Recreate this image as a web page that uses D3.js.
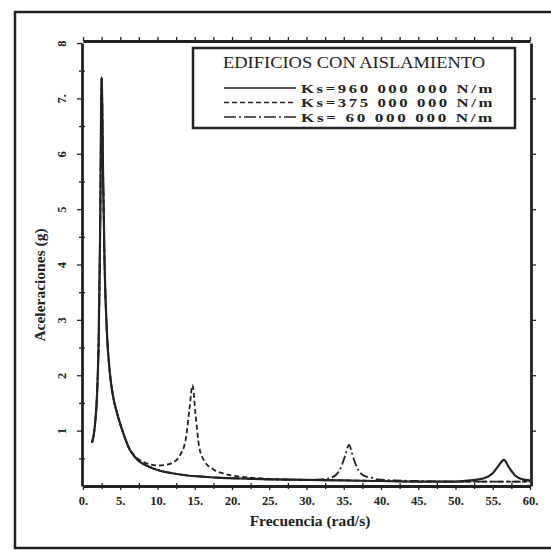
<!DOCTYPE html>
<html><head><meta charset="utf-8">
<script src="https://cdn.jsdelivr.net/npm/d3@7"></script>
<style>body{margin:0;background:#fff}svg{display:block}</style>
</head><body>
<script>
// Data
const seriesNames = ["Ks=960 000 000 N/m", "Ks=375 000 000 N/m", "Ks= 60 000 000 N/m"];
const solidX = [1.2,1.6,1.9,2.1,2.3,2.5,2.7,2.9,3.2,3.6,4.0,4.6,5.0,5.6,6.3,7.0,7.6,8.5,10,12,14,16,18,20,25,30,35,40,45,50,52,54,55,55.8,56.5,57.2,58,59,60];
const solidY = [0.78,1.1,1.7,2.6,4.6,7.38,5.6,4.0,2.8,2.05,1.65,1.3,1.12,0.88,0.65,0.52,0.44,0.37,0.29,0.23,0.19,0.17,0.15,0.14,0.12,0.11,0.10,0.09,0.08,0.08,0.10,0.15,0.23,0.37,0.47,0.33,0.19,0.12,0.10];
const dashX = [1.2,1.6,1.9,2.1,2.3,2.5,2.7,2.9,3.2,3.6,4.0,4.6,5.0,5.6,6.3,7.0,8,9,10,11,12,13,13.8,14.3,14.7,15.1,15.6,16.3,17.5,19,21,25,30,35,40,45,50,55,60];
const dashY = [0.78,1.1,1.7,2.6,4.6,7.38,5.6,4.0,2.8,2.05,1.65,1.3,1.12,0.88,0.66,0.54,0.44,0.39,0.37,0.38,0.42,0.55,0.85,1.4,1.82,1.3,0.7,0.45,0.3,0.22,0.17,0.13,0.11,0.10,0.09,0.08,0.08,0.08,0.08];
const dotX = [1.2,1.6,1.9,2.1,2.3,2.5,2.7,2.9,3.2,3.6,4.0,4.6,5.0,5.6,6.3,7.0,7.6,8.5,10,12,14,16,18,20,25,30,32,33.5,34.5,35.2,35.7,36.3,37,38,38.5,39.5,42,45,50,55,60];
const dotY = [0.78,1.1,1.7,2.6,4.6,7.38,5.6,4.0,2.8,2.05,1.65,1.3,1.12,0.88,0.65,0.52,0.44,0.37,0.29,0.23,0.19,0.17,0.15,0.14,0.12,0.11,0.12,0.16,0.3,0.55,0.74,0.5,0.28,0.17,0.16,0.12,0.1,0.09,0.08,0.08,0.08];
const xTicks = [0,5,10,15,20,25,30,35,40,45,50,55,60];
const xTickLabels = ["0.","5.","10.","15.","20.","25.","30.","35.","40.","45.","50.","55.","60."];
const yTicks = [1,2,3,4,5,6,7,8];
const yTickLabels = ["1","2","3","4","5","6","7.","8"];
const legendTitle = "EDIFICIOS CON AISLAMIENTO";
const xTitle = "Frecuencia (rad/s)";
const yTitle = "Aceleraciones (g)";

const FONT = "'Liberation Serif', 'DejaVu Serif', serif";
const W = 551, H = 551;
const L = 82, R = 531, T = 41, B = 486;
const svg = d3.select("body").append("svg").attr("width", W).attr("height", H)
  .attr("font-family", FONT);
const ink = "#222";

// outer frame
svg.append("rect").attr("x",15).attr("y",12).attr("width",560).attr("height",536)
  .attr("fill","none").attr("stroke",ink).attr("stroke-width",2.5);

const x = d3.scaleLinear().domain([0,60]).range([L+1,R-1]);
const y = d3.scaleLinear().domain([0,8]).range([B,T+2]);

// axes
const gB = svg.append("g").attr("transform",`translate(0,${B})`)
  .call(d3.axisBottom(x).tickValues(xTicks).tickFormat((d,i)=>xTickLabels[i]).tickSizeInner(4).tickSizeOuter(0).tickPadding(6));
const gBm = svg.append("g").attr("transform",`translate(0,${B-3})`)
  .call(d3.axisBottom(x).tickValues(d3.range(2.5,60,5)).tickFormat("").tickSizeInner(6).tickSizeOuter(0));
gBm.select(".domain").remove();
const gT = svg.append("g").attr("transform",`translate(0,${T})`)
  .call(d3.axisTop(x).tickValues(d3.range(0,60.1,2.5)).tickFormat("").tickSizeInner(4).tickSizeOuter(0));
const gL = svg.append("g").attr("transform",`translate(${L},0)`)
  .call(d3.axisLeft(y).tickValues(yTicks).tickFormat((d,i)=>yTickLabels[i]).tickSizeInner(5).tickSizeOuter(0));
const gLm = svg.append("g").attr("transform",`translate(${L+3},0)`)
  .call(d3.axisLeft(y).tickValues(d3.range(0.5,8,1)).tickFormat("").tickSizeInner(6).tickSizeOuter(0));
gLm.select(".domain").remove();
const gR = svg.append("g").attr("transform",`translate(${R},0)`)
  .call(d3.axisRight(y).tickValues(d3.range(1,8,1)).tickFormat("").tickSizeInner(5).tickSizeOuter(0));
[gB,gT,gL,gR].forEach(g=>g.attr("font-family",FONT).select(".domain").attr("stroke",ink).attr("stroke-width",2.8));
svg.selectAll(".tick line").attr("stroke",ink).attr("stroke-width",1.3);
gB.selectAll(".tick text").style("font-size","12.5px").attr("fill",ink).attr("font-weight","bold");
gL.selectAll(".tick text").each(function(){
  d3.select(this).attr("x",null).attr("text-anchor","middle").attr("fill",ink)
   .attr("font-weight","bold").style("font-size","12.5px")
   .attr("transform","translate(-20,0) rotate(-90)").attr("dy","0.35em");
});

// curves
const line = d3.line().x(d=>x(d[0])).y(d=>y(d[1])).curve(d3.curveMonotoneX);
const plot = svg.append("g");
const defs = [
  {xs:dotX, ys:dotY, dash:"9,3,2,3", w:1.8},
  {xs:dashX, ys:dashY, dash:"5,3", w:1.8},
  {xs:solidX, ys:solidY, dash:null, w:2.2}
];
defs.forEach(s=>{
  plot.append("path").datum(s.xs.map((v,i)=>[v,s.ys[i]]))
    .attr("d",line).attr("fill","none").attr("stroke",ink).attr("stroke-width",s.w)
    .attr("stroke-dasharray",s.dash);
});

// axis titles
svg.append("text").attr("x",310).attr("y",526).attr("text-anchor","middle").attr("fill",ink)
  .style("font-size","15.5px").attr("font-weight","bold").text(xTitle);
svg.append("text").attr("transform","translate(45,285) rotate(-90)").attr("text-anchor","middle").attr("fill",ink)
  .style("font-size","15.5px").attr("font-weight","bold").text(yTitle);

// legend
const lg = svg.append("g");
lg.append("rect").attr("x",193).attr("y",48).attr("width",322).attr("height",80)
  .attr("fill","#fff").attr("stroke",ink).attr("stroke-width",2.5);
lg.append("text").attr("x",354).attr("y",68).attr("text-anchor","middle").attr("fill",ink)
  .style("font-size","17px").attr("textLength",262).attr("lengthAdjust","spacingAndGlyphs").text(legendTitle);
const lDash = [null,"5,3","12,3,2,3"];
seriesNames.forEach((n,i)=>{
  const yy = 88 + i*14.5;
  lg.append("line").attr("x1",224).attr("x2",296).attr("y1",yy).attr("y2",yy)
    .attr("stroke",ink).attr("stroke-width",1.6).attr("stroke-dasharray",lDash[i]);
  lg.append("text").attr("x",301).attr("y",yy+4.5).attr("fill",ink).style("font-size","13px")
    .style("letter-spacing","2px").attr("font-weight","bold")
    .attr("textLength",194).attr("lengthAdjust","spacingAndGlyphs").text(n);
});
</script>
</body></html>
